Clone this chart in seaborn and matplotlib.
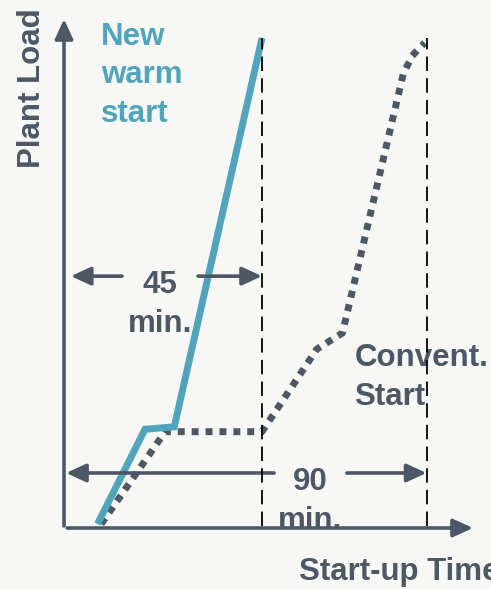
import matplotlib
matplotlib.use("Agg")
import matplotlib.pyplot as plt
import pandas as pd
import seaborn as sns

# Plant load (%) against minutes after start-up
warm_time = [0, 13, 21, 45]
warm_load = [0, 19.5, 20, 100]

conv_time = [1, 18.5, 45, 60, 67, 83.6, 86, 89.5]
conv_load = [0, 19, 19, 36, 39.3, 92.5, 96.3, 99]

durations = [45, 90]                    # start-up duration of each procedure, min
duration_labels = ["45", "90"]
series_labels = ["New\nwarm\nstart", "Convent.\nStart"]
axis_labels = ["Start-up Time", "Plant Load"]

BG = "#f7f7f5"
BLUE = "#50a4bc"
GRAY = "#4c5865"

sns.set_theme(style="white", rc={"figure.facecolor": BG, "axes.facecolor": BG})
plt.rcParams["font.family"] = ["Liberation Sans", "DejaVu Sans"]
plt.rcParams["font.weight"] = "bold"

fig = plt.figure(figsize=(4.91, 5.89), dpi=100, facecolor=BG)
ax = fig.add_axes([0, 0, 1, 1])
ax.set_xlim(-26.67, 107.63)
ax.set_ylim(-13.37, 107.82)
ax.axis("off")

FS = 22.5

# --- load curves -----------------------------------------------------------
conv = pd.DataFrame({"time": conv_time, "load": conv_load})
warm = pd.DataFrame({"time": warm_time, "load": warm_load})

sns.lineplot(data=conv, x="time", y="load", ax=ax, sort=False, estimator=None,
             color=GRAY, lw=5, zorder=3)
ax.lines[-1].set_linestyle((0, (1, 1)))
ax.lines[-1].set_dash_capstyle("butt")

sns.lineplot(data=warm, x="time", y="load", ax=ax, sort=False, estimator=None,
             color=BLUE, lw=5, zorder=4)
ax.lines[-1].set_solid_capstyle("butt")
ax.lines[-1].set_solid_joinstyle("miter")

# --- end-of-start-up markers -------------------------------------------------
for d in durations:
    ax.plot([d, d], [-0.4, 100], color="black", lw=1.3,
            linestyle=(0, (8, 4)), zorder=6)

# --- coordinate axes with arrow heads ---------------------------------------
arrow = dict(arrowstyle="-|>,head_length=1.2,head_width=0.55",
             color=GRAY, lw=2.6, shrinkA=0, shrinkB=0, mutation_scale=10)
ax.annotate("", xy=(-9.16, 103.9), xytext=(-9.16, -0.4), arrowprops=arrow, zorder=5)
ax.annotate("", xy=(102.7, -0.82), xytext=(-8.3, -0.82), arrowprops=arrow, zorder=5)

# --- duration spans, split around their labels ------------------------------
spans = [(-7.3, 45, 6.7, 27.5, 51.0), (-8.6, 90, 48.3, 68.2, 10.5)]
for (left, right, g0, g1, lvl) in spans:
    ax.annotate("", xy=(left, lvl), xytext=(g0, lvl), arrowprops=arrow, zorder=5)
    ax.annotate("", xy=(right, lvl), xytext=(g1, lvl), arrowprops=arrow, zorder=5)

label_pos = [(17.1, 47.5), (58.1, 7.0)]
for lab, (x, y) in zip(duration_labels, label_pos):
    ax.text(x, y, lab, ha="center", va="baseline", fontsize=FS,
            fontweight="bold", color=GRAY, zorder=7)
    ax.text(x, y - 8.0, "min.", ha="center", va="baseline", fontsize=FS,
            fontweight="bold", color=GRAY, zorder=7)

# --- series labels ------------------------------------------------------------
for i, line in enumerate(series_labels[0].split("\n")):
    ax.text(0.9, 98.6 - 7.95 * i, line, ha="left", va="baseline", fontsize=FS,
            fontweight="bold", color=BLUE, zorder=7)
for i, line in enumerate(series_labels[1].split("\n")):
    ax.text(70.3, 32.5 - 8.0 * i, line, ha="left", va="baseline", fontsize=FS,
            fontweight="bold", color=GRAY, zorder=5)

# --- axis titles ----------------------------------------------------------------
ax.text(55.1, -11.5, axis_labels[0], ha="left", va="baseline", fontsize=FS,
        fontweight="bold", color=GRAY)
ax.text(-15.7, 89.7, axis_labels[1], ha="center", va="baseline", rotation=90,
        rotation_mode="anchor", fontsize=FS, fontweight="bold", color=GRAY)

fig.savefig("out.png", dpi=100, facecolor=BG)
